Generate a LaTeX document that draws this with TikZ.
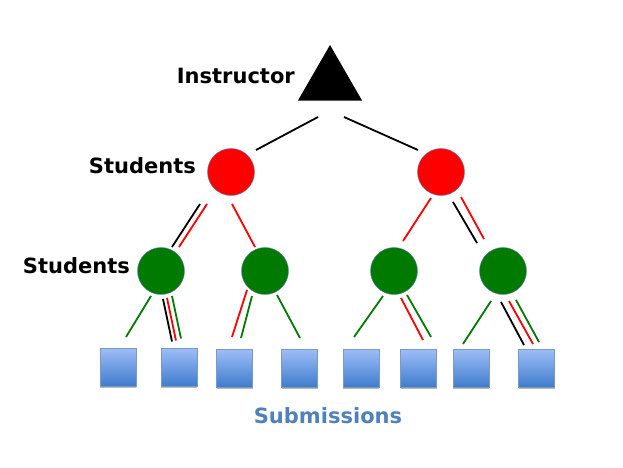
\documentclass[tikz,border=0pt]{standalone}
\usepackage{fontspec}
\setmainfont{DejaVu Sans}
\usetikzlibrary{shapes.geometric,shadows}

\definecolor{subblue}{HTML}{4F81BD}
\definecolor{boxtop}{HTML}{9DBDF7}
\definecolor{boxbot}{HTML}{3E7BCC}
\definecolor{rimblue}{HTML}{5B7FB0}
\definecolor{peergreen}{HTML}{007A00}

\tikzset{
  lbl/.style={font=\bfseries\fontsize{21}{25}\selectfont, inner sep=0pt},
  leader/.style={circle, draw=rimblue, thin, fill=red, minimum size=47pt, inner sep=0pt},
  peer/.style={circle, draw=rimblue, thin, fill=peergreen, minimum size=47pt, inner sep=0pt},
  subbox/.style={rectangle, draw=rimblue!80, thin, top color=boxtop, bottom color=boxbot,
    minimum width=36pt, minimum height=38pt, inner sep=0pt,
    drop shadow={shadow xshift=0pt, shadow yshift=-1.5pt, opacity=0.45, fill=black!60}},
  link/.style={line width=1.8pt}
}

\begin{document}
\begin{tikzpicture}[x=1pt,y=-1pt]
  \useasboundingbox (0,0) rectangle (623,467);

  % tree
  \node[regular polygon, regular polygon sides=3, fill=black, minimum size=74pt, inner sep=0pt] (ins) at (330,82) {};
  \node[leader] (s1) at (231,172) {};
  \node[leader] (s2) at (441,172) {};
  \node[peer] (g1) at (161,271) {};
  \node[peer] (g2) at (265,271) {};
  \node[peer] (g3) at (394,271) {};
  \node[peer] (g4) at (503,271) {};
  \node[subbox] (b1) at (118,367.5) {};
  \node[subbox] (b2) at (179,367.5) {};
  \node[subbox] (b3) at (234.5,368.5) {};
  \node[subbox] (b4) at (299.5,368.5) {};
  \node[subbox] (b5) at (361,368.5) {};
  \node[subbox] (b6) at (418.5,368.5) {};
  \node[subbox] (b7) at (471,368.5) {};
  \node[subbox] (b8) at (536.5,368.5) {};

  % labels
  \node[lbl, anchor=east] (tins) at (295,76) {Instructor};
  \node[lbl, anchor=east] (ts1) at (196,166) {Students};
  \node[lbl, anchor=east] (ts2) at (130,266) {Students};
  \node[lbl, text=subblue] (tsub) at (328,416) {Submissions};

  % instructor to students
  \draw[link] ([shift={(-12,35)}]ins.center) -- ([shift={(25,-22)}]s1.center);
  \draw[link] ([shift={(14,35)}]ins.center) -- ([shift={(-23,-22)}]s2.center);

  % students to students
  \draw[link] ([shift={(-31,32)}]s1.center) -- ([shift={(11,-24)}]g1.center);
  \draw[link,red] ([shift={(-24,32)}]s1.center) -- ([shift={(18,-24)}]g1.center);
  \draw[link,red] ([shift={(1,32)}]s1.center) -- ([shift={(-10,-24)}]g2.center);
  \draw[link,red] ([shift={(-10,26)}]s2.center) -- ([shift={(9,-30)}]g3.center);
  \draw[link] ([shift={(12,30)}]s2.center) -- ([shift={(-26,-28)}]g4.center);
  \draw[link,red] ([shift={(20,25)}]s2.center) -- ([shift={(-19,-32)}]g4.center);

  % students to submissions
  \draw[link,peergreen] ([shift={(-10,25)}]g1.center) -- ([shift={(8,-30.5)}]b1.center);
  \draw[link] ([shift={(2,28)}]g1.center) -- ([shift={(-7,-26)}]b2.center);
  \draw[link,red] ([shift={(6,27)}]g1.center) -- ([shift={(-3,-27)}]b2.center);
  \draw[link,peergreen] ([shift={(11,25)}]g1.center) -- ([shift={(2,-29)}]b2.center);
  \draw[link,red] ([shift={(-18,19)}]g2.center) -- ([shift={(-2.5,-31.5)}]b3.center);
  \draw[link,peergreen] ([shift={(-13,25)}]g2.center) -- ([shift={(6.5,-30.5)}]b3.center);
  \draw[link,peergreen] ([shift={(12,24)}]g2.center) -- ([shift={(0.5,-30.5)}]b4.center);
  \draw[link,peergreen] ([shift={(-11,25)}]g3.center) -- ([shift={(-7,-31.5)}]b5.center);
  \draw[link,red] ([shift={(7,27)}]g3.center) -- ([shift={(4.5,-28.5)}]b6.center);
  \draw[link,peergreen] ([shift={(13,24)}]g3.center) -- ([shift={(12.5,-31.5)}]b6.center);
  \draw[link,peergreen] ([shift={(-12,30)}]g4.center) -- ([shift={(-8,-24.5)}]b7.center);
  \draw[link] ([shift={(-2,31)}]g4.center) -- ([shift={(-12.5,-23.5)}]b8.center);
  \draw[link,red] ([shift={(6,30)}]g4.center) -- ([shift={(-3.5,-24.5)}]b8.center);
  \draw[link,peergreen] ([shift={(13,29)}]g4.center) -- ([shift={(2.5,-26.5)}]b8.center);
\end{tikzpicture}
\end{document}
